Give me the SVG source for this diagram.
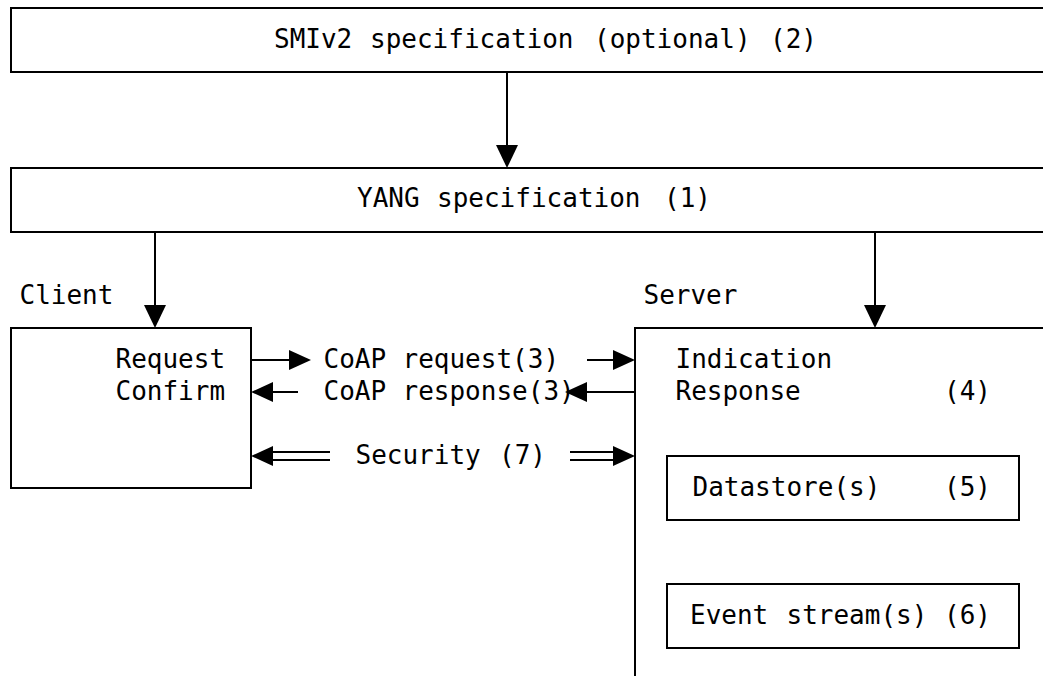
<svg xmlns="http://www.w3.org/2000/svg" xmlns:xlink="http://www.w3.org/1999/xlink" width="1043" height="676" viewBox="0 0 1043 676">
<style>
.box{fill:none;stroke:#000;stroke-width:2}
.ln{fill:none;stroke:#000;stroke-width:2}
.hd{fill:#000;stroke:none}
text{font-family:"DejaVu Sans Mono","Liberation Mono",monospace;font-size:26px;fill:#000}
</style>
<defs>
<path id="ahR" d="M0,0 L-22,-10 L-22,10 Z"/>
<path id="ahD" d="M0,0 L-11,-23 L11,-23 Z"/>
</defs>
<rect width="1043" height="676" fill="#fff"/>
<g id="smiv2">
<path class="box" d="M1060,8 H11 V72 H1060"/>
<text y="48"><tspan x="274">SMIv2</tspan> <tspan x="370">specification</tspan> <tspan x="594">(optional)</tspan> <tspan x="770">(2)</tspan></text>
</g>
<g id="yang">
<path class="box" d="M1060,168 H11 V232 H1060"/>
<text y="207"><tspan x="357">YANG</tspan> <tspan x="437">specification</tspan> <tspan x="664">(1)</tspan></text>
</g>
<g id="client">
<text x="19.5" y="304">Client</text>
<rect class="box" x="11" y="328" width="240" height="160"/>
<text x="115.5" y="368">Request</text>
<text x="115.5" y="400">Confirm</text>
</g>
<g id="server">
<text x="643.5" y="304">Server</text>
<path class="box" d="M1060,328 H635 V690"/>
<text x="675.5" y="368">Indication</text>
<text y="400"><tspan x="675.5">Response</tspan> <tspan x="944">(4)</tspan></text>
</g>
<g id="datastore">
<rect class="box" x="667" y="456" width="352" height="64"/>
<text y="496"><tspan x="692.5">Datastore(s)</tspan> <tspan x="944">(5)</tspan></text>
</g>
<g id="eventstream">
<rect class="box" x="667" y="584" width="352" height="64"/>
<text y="624"><tspan x="690">Event</tspan> <tspan x="786.5">stream(s)</tspan> <tspan x="944">(6)</tspan></text>
</g>
<g id="connectors">
<line class="ln" x1="507" y1="72" x2="507" y2="150"/>
<use href="#ahD" class="hd" transform="translate(507,168)"/>
<line class="ln" x1="155" y1="232" x2="155" y2="310"/>
<use href="#ahD" class="hd" transform="translate(155,328)"/>
<line class="ln" x1="875" y1="232" x2="875" y2="310"/>
<use href="#ahD" class="hd" transform="translate(875,328)"/>
<line class="ln" x1="251" y1="360" x2="292" y2="360"/>
<use href="#ahR" class="hd" transform="translate(311,360)"/>
<text x="323.5" y="368">CoAP</text>
<text x="402.5" y="368">request(3)</text>
<line class="ln" x1="587" y1="360" x2="616" y2="360"/>
<use href="#ahR" class="hd" transform="translate(635,360)"/>
<use href="#ahR" class="hd" transform="translate(251,392) rotate(180)"/>
<line class="ln" x1="270" y1="392" x2="298" y2="392"/>
<text x="323.5" y="400">CoAP</text>
<text x="402.5" y="400">response(3)</text>
<use href="#ahR" class="hd" transform="translate(565,392) rotate(180)"/>
<line class="ln" x1="584" y1="392" x2="635" y2="392"/>
<use href="#ahR" class="hd" transform="translate(251,456) rotate(180)"/>
<path class="ln" d="M268,452 H330 M268,460 H330"/>
<text x="355.5" y="464">Security</text>
<text x="499" y="464">(7)</text>
<path class="ln" d="M570,452 H618 M570,460 H618"/>
<use href="#ahR" class="hd" transform="translate(635,456)"/>
</g>
</svg>
